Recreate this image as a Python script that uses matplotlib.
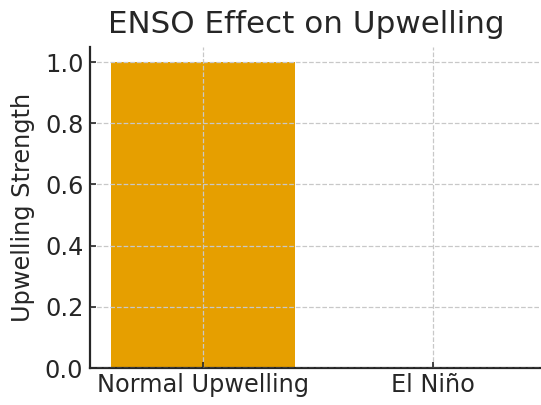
import matplotlib
matplotlib.use("Agg")
import matplotlib.pyplot as plt

categories = ["Normal Upwelling", "El Niño"]
strength = [1.0, 0.0]

text_color = "#262626"
bar_color = "#E69F00"

fig = plt.figure(figsize=(5.41, 4.05), dpi=100)
# axes placed in pixels to follow the reference (right side runs off the edge)
ax = fig.add_axes([90.3 / 541, (405 - 368) / 405, 455.4 / 541, 321.3 / 405])

ax.bar(categories, strength, width=0.8, color=bar_color, zorder=1)
ax.set_xlim(-0.49, 1.49)
ax.set_ylim(0, 1.05)
ax.set_axisbelow(False)
ax.grid(True, linestyle="--", color="#c8c8c8", linewidth=0.9, zorder=2)

ax.set_title("ENSO Effect on Upwelling", fontsize=22.3, color=text_color, pad=10, x=0.474)
ax.set_ylabel("Upwelling Strength", fontsize=17.3, color=text_color, labelpad=7)
ax.tick_params(axis="both", direction="in", labelsize=17.3, colors=text_color, length=4, width=1.2)
ax.tick_params(axis="y", pad=5)

for side in ["top", "right"]:
    ax.spines[side].set_visible(False)
for side in ["left", "bottom"]:
    ax.spines[side].set_linewidth(1.6)
    ax.spines[side].set_color(text_color)

fig.savefig("out.png", dpi=100)
